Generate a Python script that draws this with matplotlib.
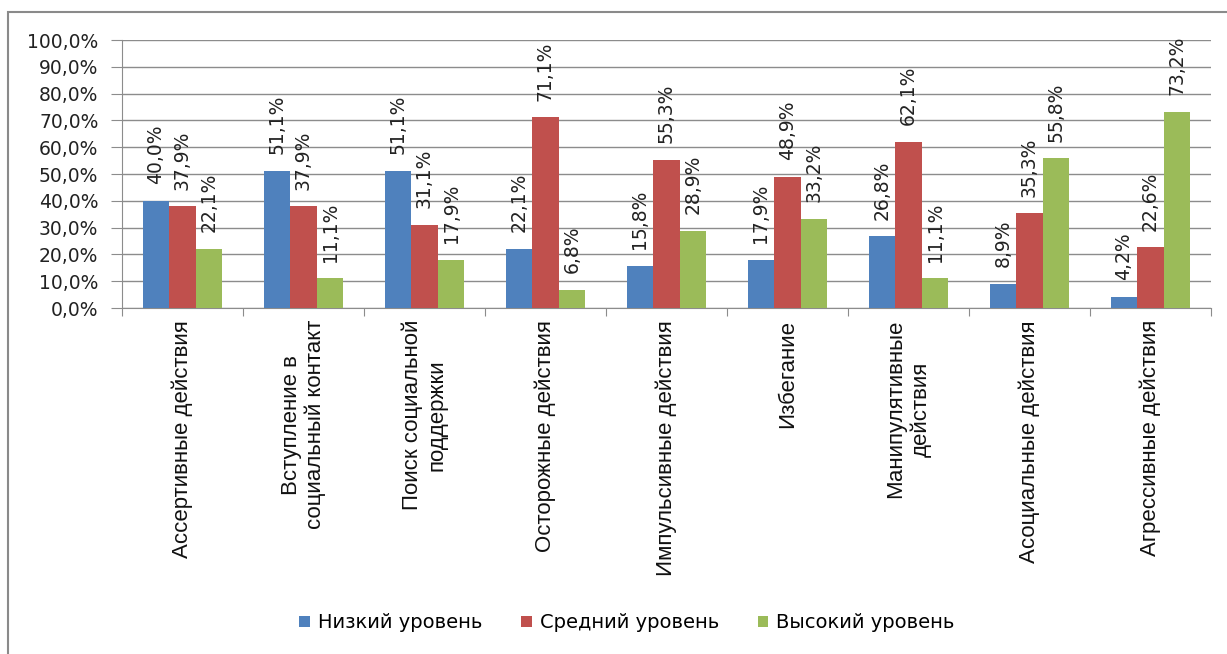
import numpy as np
import matplotlib.pyplot as plt
from matplotlib.patches import Rectangle

categories = [
    'Ассертивные действия',
    'Вступление в\nсоциальный контакт',
    'Поиск социальной\nподдержки',
    'Осторожные действия',
    'Импульсивные действия',
    'Избегание',
    'Манипулятивные\nдействия',
    'Асоциальные действия',
    'Агрессивные действия',
]
series_names = ['Низкий уровень', 'Средний уровень', 'Высокий уровень']
low = [40.0, 51.1, 51.1, 22.1, 15.8, 17.9, 26.8, 8.9, 4.2]
mid = [37.9, 37.9, 31.1, 71.1, 55.3, 48.9, 62.1, 35.3, 22.6]
high = [22.1, 11.1, 17.9, 6.8, 28.9, 33.2, 11.1, 55.8, 73.2]
colors = ['#4F81BD', '#C0504D', '#9BBB59']


def pct(v):
    return '{:.1f}%'.format(v).replace('.', ',')


fig = plt.figure(figsize=(12.27, 6.54), dpi=100)
ax = fig.add_axes([122 / 1227, 1 - 308 / 654, (1211 - 122) / 1227, 268 / 654])

# outer chart frame
fig.patches.append(Rectangle((8 / 1227, -0.01), 1.0, 1 - 12 / 654 + 0.01,
                             transform=fig.transFigure, fill=False,
                             edgecolor='#8a8a8a', linewidth=1.5))

x = np.arange(len(categories))
w = 0.22
for i, (vals, col, name) in enumerate(zip([low, mid, high], colors, series_names)):
    pos = x + (i - 1) * w
    ax.bar(pos, vals, width=w, color=col, label=name, zorder=3)
    for px, v in zip(pos, vals):
        ax.annotate(pct(v), (px, v), xytext=(0, 12), textcoords='offset points',
                    rotation=90, ha='center', va='bottom', fontsize=13.5,
                    family='DejaVu Sans', color='#222222')

ax.set_xlim(-0.5, len(categories) - 0.5)
ax.set_ylim(0, 100)
ax.set_yticks(np.arange(0, 101, 10))
ax.set_yticklabels([pct(v) for v in np.arange(0, 101, 10)], family='DejaVu Sans',
                   fontsize=13.5, color='#222222')
ax.yaxis.grid(True, color='#8c8c8c', linewidth=1, zorder=0)
ax.tick_params(axis='y', length=8, color='#8c8c8c', pad=9)

ax.set_xticks(np.arange(len(categories) + 1) - 0.5)
ax.set_xticklabels([])
ax.tick_params(axis='x', length=6, color='#8c8c8c')
for xi, lab in zip(x, categories):
    ax.text(xi, -4.5, lab, rotation=90, ha='center', va='top', multialignment='center',
            fontsize=16, family='Liberation Sans', color='#111111')

for s in ['top', 'right']:
    ax.spines[s].set_visible(False)
ax.spines['left'].set_color('#8c8c8c')
ax.spines['bottom'].set_color('#8c8c8c')

fig.legend(loc='center', bbox_to_anchor=(627 / 1227, 1 - 623 / 654), ncol=3, frameon=False,
           prop={'family': 'DejaVu Sans', 'size': 14}, handlelength=0.55, handleheight=0.55,
           handletextpad=0.4, columnspacing=2.0)

fig.savefig('out.png', dpi=100, facecolor='white')
